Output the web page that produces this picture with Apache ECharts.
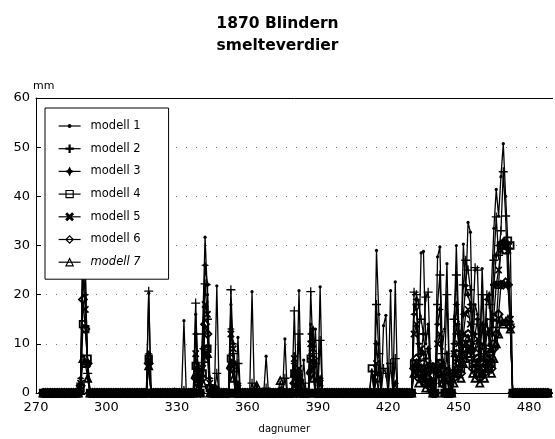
<!DOCTYPE html>
<html><head><meta charset="utf-8">
<script src="https://cdn.jsdelivr.net/npm/echarts@6/dist/echarts.min.js"></script>
<style>html,body{margin:0;padding:0;background:#fff}#c{width:555px;height:439px}</style>
</head><body><div id="c"></div>
<script>
// ---------------- data ----------------
const firstDay = 273, lastDay = 488;          // days drawn (all other days read as 0)
const xTickLabels = [270, 300, 330, 360, 390, 420, 450, 480];
const yTickLabels = [0, 10, 20, 30, 40, 50, 60];
const seriesNames = ['modell 1','modell 2','modell 3','modell 4','modell 5','modell 6','modell 7'];

// days with melt (non-zero) values; each model array is aligned with this list
const spikeDays = [
  289,290,291,292,
  318,329,333,
  338,339,341,342,343,344,347,
  353,354,356,362,364,368,
  374,376,380,382,384,387,388,389,391,
  413,415,416,418,419,421,423,
  431,432,433,434,435,436,437,438,439,
  441,442,443,444,445,446,
  448,449,450,451,452,453,454,455,456,457,458,459,460,461,462,463,464,465,466,467,468,469,470,471,472
];
const modell1 = [
  1.5,34,26,3,
  20.3,0.8,14.7,
  16,4,14,31.7,20,2,21.8,
  18,6,11.3,20.6,1.5,7.5,
  1,11,8,20.8,6.7,14,6,13,21.6,
  4.5,29,16,13.7,15.8,20.8,22.6,
  18,17,8,28.5,28.8,10,14,4,6,
  27.7,29.7,9,13,26.3,5,
  12,30,14,9,30.3,20,34.7,32.7,10,18,16,8,25.3,12,15,10,22,33.5,41.4,36,44,50.7,40,30,14
];
const modell2 = [
  2,30,24,4,
  20.7,0,0.5,
  18.3,3,12,22.2,15,1,4,
  21,8,6,2,0,1,
  0,3,16.7,12,2,20.6,8,6,10.7,
  0,18,8,5,4,6,7,
  20.5,20,18,15,12,19.5,20.5,6,5,
  18,24,8,5,20,4,
  15,24,10,12,22,27,25,21,14,25.5,25,10,20,9,20,18,15,27,35.8,28,33,45,36,22,14
];
const modell3 = [
  3,26,20,6,
  8,0,0,
  12,5,9,26,22,3,1,
  13,10,2,0,0,0,
  0,0,6,4,0,12,13,0,3,
  0,10,4,0,0,0,2,
  16,19,10,8,12,7,9,3,2,
  14,17,6,3,8,2,
  10,18,12,8,16,21.8,20,18,9,12,15,7,14,8,19,20,12,22,28,30,30.5,31,30,29.5,14.5
];
const modell4 = [
  1,14,13,7,
  7,0,0,
  5.5,3,4,8.7,9,1,0,
  7,5,0,0,0,0,
  0,0,4,3,0,7,6,0,0,
  5,3,0,0,0,0,0,
  6,5,4,6,3,2,5,2,0,
  5,6,3,0,3,0,
  4,6,8,5,7,9,10,8,6,5,7,4,6,5,7,9,6,10,14,22,30,30,29,31,30
];
const modell5 = [
  2,24,17,6,
  6.5,0,0,
  8,2,5,18,16,2,0,
  12,9,1,0,0,0,
  0,0,7,5,0,10,9,0,2,
  0,6,0,0,0,0,0,
  12,14,6,9,8,4,6,2,0,
  10,12,4,0,5,0,
  8,14,10,6,12,16,17,14,8,9,11,5,10,7,12,13,9,16,22,25,29,30.5,30,29,15
];
const modell6 = [
  1.5,19,13,6,
  6,0,0,
  3,2,3,14,12,1,0,
  5,6,0,0,0,0,
  0,0,2,2,0,4,7,0,0,
  0,0,0,0,0,0,0,
  5,7,3,4,5,2,3,1,0,
  4,6,2,0,0,0,
  3,8,6,4,9,11,12,10,5,6,7,3,5,4,6,8,5,9,12,16,22,22,22.5,22,13.5
];
const modell7 = [
  0.5,7,6,3,
  5.5,0,0,
  4,1,2,7,8,0,0,
  6,3,0,0,1.5,0,
  2.5,0,4,1,0,5,3,0,0,
  0,0,0,0,0,0,0,
  4,6,2,5,3,1,2,1,0,
  6,4,2,0,0,0,
  2,5,4,3,6,7,8,9,4,3,5,2,4,3,5,6,4,7,10,12,15,14,14.5,15,13
];
const models = [modell1, modell2, modell3, modell4, modell5, modell6, modell7];

// ---------------- styles ----------------
const markers = [
  {symbol: 'path://M0,0M10,10M5,3.2A1.8,1.8,0,1,1,5,6.8A1.8,1.8,0,1,1,5,3.2Z', size: 9, fill: '#000'},
  {symbol: 'path://M4.3,0h1.4v4.3h4.3v1.4h-4.3v4.3h-1.4v-4.3h-4.3v-1.4h4.3z', size: 9, fill: '#000'},
  {symbol: 'path://M5,0L6.6,3.4L10,5L6.6,6.6L5,10L3.4,6.6L0,5L3.4,3.4Z', size: 8, fill: '#000'},
  {symbol: 'rect', size: 6.5, fill: 'rgba(0,0,0,0)'},
  {symbol: 'path://M0,1.6L1.6,0L5,3.4L8.4,0L10,1.6L6.6,5L10,8.4L8.4,10L5,6.6L1.6,10L0,8.4L3.4,5Z', size: 7.5, fill: '#000'},
  {symbol: 'diamond', size: 8, fill: 'rgba(0,0,0,0)'},
  {symbol: 'triangle', size: 7, fill: 'rgba(0,0,0,0)'}
];

// build daily series (days without a listed value are 0)
const days = [];
for (let d = firstDay; d <= lastDay; d++) days.push(d);
function daily(vals) {
  if (vals.length !== spikeDays.length) console.error('length mismatch', vals.length, spikeDays.length);
  const m = new Map(spikeDays.map((d, i) => [d, vals[i]]));
  return days.map(d => [d, m.has(d) ? m.get(d) : 0]);
}

const font = 'DejaVu Sans';
const chart = echarts.init(document.getElementById('c'), null, {renderer: 'canvas'});
chart.setOption({
  animation: false,
  backgroundColor: '#fff',
  title: {
    text: '1870 Blindern\nsmelteverdier',
    left: 'center', top: 8, padding: [5, 0, 5, 9],
    textStyle: {fontFamily: font, fontWeight: 'bold', fontSize: 15.5, lineHeight: 22, color: '#000'}
  },
  legend: {
    orient: 'vertical', left: 45, top: 108,
    padding: [12, 28, 11, 13],
    itemWidth: 22, itemHeight: 9, itemGap: 10.7,
    backgroundColor: '#fff', borderColor: '#000', borderWidth: 1, borderRadius: 0,
    itemStyle: {borderWidth: 1.2},
    lineStyle: {width: 1.2},
    textStyle: {fontFamily: font, fontSize: 11.5, color: '#000', padding: [0, 0, 0, 5]},
    data: seriesNames.map((n, i) => i === 6 ? {name: n, textStyle: {fontStyle: 'italic'}} : {name: n})
  },
  grid: {left: 36, right: 2.4, top: 98, bottom: 44},
  xAxis: [{
    type: 'value', min: 270, max: 490, interval: 30,
    name: 'dagnumer', nameLocation: 'middle', nameGap: 31,
    nameTextStyle: {fontFamily: font, fontSize: 10, color: '#000', padding: [0, 20, 0, 0]},
    axisLine: {show: true, lineStyle: {color: '#000', width: 1}},
    axisTick: {show: false},
    axisLabel: {fontFamily: font, fontSize: 13, color: '#000', margin: 8, showMaxLabel: false,
      formatter: v => xTickLabels.includes(v) ? String(v) : ''},
    splitLine: {show: false}
  }, {
    type: 'value', min: 270, max: 490, position: 'top',
    axisLine: {show: true, lineStyle: {color: '#000', width: 1}},
    axisTick: {show: false}, axisLabel: {show: false}, splitLine: {show: false}
  }],
  yAxis: {
    type: 'value', min: 0, max: 60, interval: 10,
    name: 'mm', nameLocation: 'end', nameGap: 5,
    nameTextStyle: {fontFamily: font, fontSize: 11, color: '#000', align: 'left', padding: [0, 0, 0, -3]},
    axisLine: {show: true, lineStyle: {color: '#000', width: 1}},
    axisTick: {show: true, inside: true, length: 5, lineStyle: {color: '#000'}},
    axisLabel: {fontFamily: font, fontSize: 13, color: '#000', margin: 6,
      formatter: v => yTickLabels.includes(v) ? String(v) : ''},
    splitLine: {show: true, lineStyle: {color: '#777', type: [1, 9], width: 1}}
  },
  series: models.map((vals, i) => ({
    name: seriesNames[i],
    type: 'line',
    xAxisIndex: 0,
    data: daily(vals),
    symbol: markers[i].symbol,
    symbolSize: markers[i].size,
    showAllSymbol: true,
    lineStyle: {color: '#000', width: 1.3},
    itemStyle: {color: markers[i].fill, borderColor: '#000', borderWidth: markers[i].fill === '#000' ? 0 : 1.8},
    emphasis: {disabled: true}
  }))
});
</script></body></html>
